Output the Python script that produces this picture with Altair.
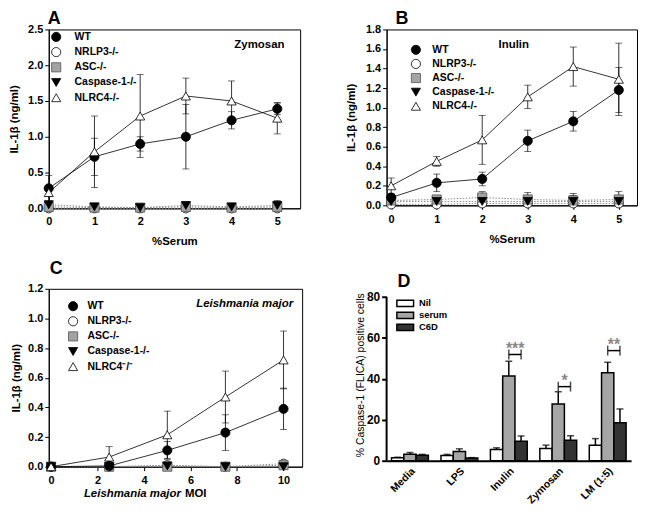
import altair as alt
import pandas as pd

FONT = "Liberation Sans"

# ---------------- Panel A : Zymosan ----------------
serum_x = [0, 1, 2, 3, 4, 5]
a_labels = ["WT", "NRLP3-/-", "ASC-/-", "Caspase-1-/-", "NLRC4-/-"]
a_wt = [0.28, 0.72, 0.90, 1.00, 1.23, 1.39]
a_wt_err = [0.18, 0.26, 0.10, 0.45, 0.12, 0.08]
a_nlrp3 = [0.00, 0.00, 0.00, 0.00, 0.00, 0.00]
a_nlrp3_err = [0.00, 0.00, 0.00, 0.00, 0.00, 0.00]
a_asc = [0.02, 0.01, 0.01, 0.02, 0.01, 0.02]
a_asc_err = [0.01, 0.00, 0.00, 0.01, 0.00, 0.01]
a_casp = [0.05, 0.02, 0.01, 0.04, 0.02, 0.04]
a_casp_err = [0.05, 0.01, 0.01, 0.02, 0.01, 0.07]
a_nlrc4 = [0.22, 0.79, 1.29, 1.57, 1.50, 1.26]
a_nlrc4_err = [0.05, 0.50, 0.58, 0.25, 0.28, 0.22]

# ---------------- Panel B : Inulin ----------------
b_labels = ["WT", "NLRP3-/-", "ASC-/-", "Caspase-1-/-", "NLRC4-/-"]
b_wt = [0.08, 0.23, 0.27, 0.66, 0.86, 1.18]
b_wt_err = [0.03, 0.09, 0.07, 0.11, 0.10, 0.23]
b_nlrp3 = [0.01, 0.01, 0.02, 0.02, 0.02, 0.02]
b_nlrp3_err = [0.01, 0.01, 0.01, 0.01, 0.01, 0.01]
b_asc = [0.05, 0.06, 0.08, 0.06, 0.05, 0.06]
b_asc_err = [0.02, 0.03, 0.06, 0.07, 0.07, 0.08]
b_casp = [0.04, 0.04, 0.04, 0.04, 0.04, 0.04]
b_casp_err = [0.01, 0.02, 0.03, 0.06, 0.06, 0.06]
b_nlrc4 = [0.20, 0.45, 0.67, 1.11, 1.42, 1.29]
b_nlrc4_err = [0.08, 0.05, 0.25, 0.12, 0.20, 0.37]

# ---------------- Panel C : Leishmania major ----------------
moi_x = [0, 2.5, 5, 7.5, 10]
c_labels = ["WT", "NLRP3-/-", "ASC-/-", "Caspase-1-/-", "NLRC4\u207b/\u207b"]
c_wt = [0.00, 0.005, 0.11, 0.23, 0.39]
c_wt_err = [0.00, 0.005, 0.06, 0.12, 0.14]
c_nlrp3 = [0.00, 0.00, 0.01, 0.00, 0.02]
c_nlrp3_err = [0.00, 0.00, 0.01, 0.00, 0.02]
c_asc = [0.00, 0.00, 0.00, 0.00, 0.01]
c_asc_err = [0.00, 0.00, 0.00, 0.00, 0.00]
c_casp = [0.00, 0.00, 0.005, 0.00, 0.00]
c_casp_err = [0.00, 0.00, 0.00, 0.00, 0.00]
c_nlrc4 = [0.00, 0.065, 0.215, 0.47, 0.72]
c_nlrc4_err = [0.00, 0.07, 0.16, 0.175, 0.195]

# ---------------- Panel D : FLICA ----------------
d_cats = ["Media", "LPS", "Inulin", "Zymosan", "LM (1:5)"]
d_groups = ["Nil", "serum", "C6D"]
d_nil = [1.4, 2.6, 5.5, 6.0, 7.6]
d_nil_err = [0.3, 0.5, 0.8, 1.6, 3.2]
d_serum = [3.1, 4.5, 41.4, 27.7, 43.0]
d_serum_err = [0.9, 1.3, 7.2, 6.0, 5.1]
d_c6d = [2.7, 1.3, 9.5, 10.0, 18.5]
d_c6d_err = [0.4, 0.2, 2.6, 2.2, 6.8]
sig_cats = ["Inulin", "Zymosan", "LM (1:5)"]
sig_text = ["***", "*", "**"]
sig_y = [51.9, 36.2, 53.8]

SHAPES = ["circle", "circle", "square", "triangle-down", "triangle-up"]
FILLS = ["black", "white", "#a3a3a3", "black", "white"]
STROKES = ["black", "black", "#555555", "black", "black"]


def line_panel(xs, labels, ys, errs, xdom, xticks, ydom, yticks, w, h,
               letter, letter_dx, letter_off, ytitle_pad, xlab_pad,
               xtitle, leg, note):
    rows = []
    order = [1, 2, 3, 0, 4]
    for i in order:
        for x, y, e in zip(xs, ys[i], errs[i]):
            rows.append(dict(x=x, y=y, lo=max(y - e, 0), hi=y + e, e=e,
                             s=labels[i]))
    df = pd.DataFrame(rows)
    main = [labels[0], labels[4]]
    ko = [labels[1], labels[2], labels[3]]

    xaxis = alt.Axis(values=xticks, title=xtitle, grid=False,
                     labelFont=FONT, labelFontSize=11,
                     labelFontWeight="bold", labelPadding=xlab_pad,
                     tickSize=4, titleFont=FONT, titleFontSize=11.5,
                     titleFontWeight="bold", titlePadding=9,
                     labelFlush=False, labelOverlap=False)
    yaxis = alt.Axis(values=yticks, format=".1f",
                     title="IL-1\u03b2 (ng/ml)", grid=False,
                     labelFont=FONT, labelFontSize=11,
                     labelFontWeight="bold", labelPadding=2,
                     tickSize=4, titleFont=FONT, titleFontSize=11.5,
                     titleFontWeight="bold", titlePadding=ytitle_pad,
                     labelFlush=False, labelOverlap=False)
    xsc = alt.Scale(domain=xdom, nice=False, zero=False)
    ysc = alt.Scale(domain=ydom, nice=False, zero=False)

    def X(f="x"):
        return alt.X(f + ":Q", scale=xsc, axis=xaxis)

    def Y(f="y"):
        return alt.Y(f + ":Q", scale=ysc, axis=yaxis)

    base = alt.Chart(df)
    err_df = base.transform_filter("datum.e > 0")
    erule = err_df.mark_rule(color="black", strokeWidth=0.8).encode(
        x=X(), y=Y("lo"), y2="hi:Q")
    ecap_hi = err_df.mark_tick(orient="horizontal", size=7, thickness=0.8,
                               color="black").encode(x=X(), y=Y("hi"))
    ecap_lo = err_df.mark_tick(orient="horizontal", size=7, thickness=0.8,
                               color="black").encode(x=X(), y=Y("lo"))
    kolines = base.transform_filter(
        alt.FieldOneOfPredicate(field="s", oneOf=ko)).mark_line(
        color="#8c8c8c", strokeWidth=1, strokeDash=[1.5, 1.5]).encode(
        x=X(), y=Y(), detail="s:N")
    mainlines = base.transform_filter(
        alt.FieldOneOfPredicate(field="s", oneOf=main)).mark_line(
        color="black", strokeWidth=0.8).encode(x=X(), y=Y(), detail="s:N")
    legend = alt.Legend(title=None, orient="none", legendX=leg[0],
                        legendY=leg[1], labelFont=FONT, labelFontSize=10.5,
                        labelFontWeight="bold", labelColor="black",
                        symbolSize=85, symbolStrokeWidth=0.8,
                        labelOffset=leg[2], rowPadding=leg[3], padding=0)
    pts = base.mark_point(filled=True, size=85, strokeWidth=0.8,
                          opacity=1).encode(
        x=X(), y=Y(),
        shape=alt.Shape("s:N", scale=alt.Scale(domain=labels, range=SHAPES),
                        legend=legend),
        fill=alt.Fill("s:N", scale=alt.Scale(domain=labels, range=FILLS),
                      legend=legend),
        stroke=alt.Stroke("s:N", scale=alt.Scale(domain=labels,
                                                 range=STROKES),
                          legend=legend))
    layers = [kolines, mainlines, erule, ecap_hi, ecap_lo, pts]
    for n in note:
        layers.append(alt.Chart(pd.DataFrame({"t": [n["text"]]})).mark_text(
            font=FONT, fontSize=n.get("size", 11.5), fontWeight="bold",
            fontStyle=n.get("style", "normal"), align=n["align"],
            baseline="middle", color="black").encode(
            text="t:N", x=alt.value(n["x"]), y=alt.value(n["y"])))
    return alt.layer(*layers).properties(
        width=w, height=h,
        view=alt.ViewBackground(stroke="black", strokeWidth=1),
        title=alt.TitleParams(letter, anchor="start", frame="group",
                              font=FONT, fontSize=18, fontWeight="bold",
                              color="black", dx=letter_dx,
                              offset=letter_off))


A = line_panel(serum_x, a_labels,
               [a_wt, a_nlrp3, a_asc, a_casp, a_nlrc4],
               [a_wt_err, a_nlrp3_err, a_asc_err, a_casp_err, a_nlrc4_err],
               [0, 5.5], serum_x, [0, 2.5], [0, 0.5, 1.0, 1.5, 2.0, 2.5],
               253, 180, "A", -1, -5, 8, 3, "%Serum",
               (2, 2, 13, 2.3),
               [dict(text="Zymosan", x=212, y=16, align="center")])

B = line_panel(serum_x, b_labels,
               [b_wt, b_nlrp3, b_asc, b_casp, b_nlrc4],
               [b_wt_err, b_nlrp3_err, b_asc_err, b_casp_err, b_nlrc4_err],
               [-0.1, 5.4], serum_x, [0, 1.8],
               [0, 0.2, 0.4, 0.6, 0.8, 1.0, 1.2, 1.4, 1.6, 1.8],
               252, 177, "B", 9, -5, 9, 4, "%Serum",
               (24, 15, 11, 1.2),
               [dict(text="Inulin", x=128, y=16, align="center")])

C = line_panel(moi_x, c_labels,
               [c_wt, c_nlrp3, c_asc, c_casp, c_nlrc4],
               [c_wt_err, c_nlrp3_err, c_asc_err, c_casp_err, c_nlrc4_err],
               [-0.1, 10.8], [0, 2, 4, 6, 8, 10], [0, 1.2],
               [0, 0.2, 0.4, 0.6, 0.8, 1.0, 1.2],
               255, 179, "C", 1, 5, 6, 4, None,
               (19, 12, 9, 2.2),
               [dict(text="Leishmania major", x=246, y=15, align="right",
                     style="italic"),
                dict(text="Leishmania major", x=133, y=207, align="right",
                     style="italic", size=11.5),
                dict(text="MOI", x=137, y=207, align="left", size=11.5)])

# ---------------- Panel D build ----------------
drows = []
for g, vals, errs in zip(d_groups, [d_nil, d_serum, d_c6d],
                         [d_nil_err, d_serum_err, d_c6d_err]):
    for c, v, e in zip(d_cats, vals, errs):
        drows.append(dict(cat=c, grp=g, v=v, hi=v + e))
ddf = pd.DataFrame(drows)

brows = []
for c, t, y in zip(sig_cats, sig_text, sig_y):
    for g in ["serum", "C6D"]:
        brows.append(dict(cat=c, grp=g, v=y, t=t))
bdf = pd.DataFrame(brows)
sdf = pd.DataFrame(dict(cat=sig_cats, v=sig_y, t=sig_text))
adf = pd.DataFrame(dict(v=[0], hi=[80]))

d_xaxis = alt.Axis(title=None, labelAngle=-45, labelAlign="right",
                   labelBaseline="top", labelFont=FONT,
                   labelFontSize=10.5, labelFontWeight="bold",
                   ticks=False, labelPadding=5, domainWidth=2,
                   domainColor="black")
d_xsc = alt.Scale(domain=d_cats, paddingInner=0.255, paddingOuter=0.1)
d_yaxis = alt.Axis(values=[0, 20, 40, 60, 80], grid=False,
                   domain=False, tickWidth=2, tickSize=5,
                   labelFont=FONT, labelFontSize=12,
                   labelFontWeight="bold", labelPadding=2,
                   title="% Caspase-1 (FLICA) positive cells",
                   titleFont=FONT, titleFontSize=10.5,
                   titleFontWeight="normal", titleX=-21,
                   labelOverlap=False)
d_ysc = alt.Scale(domain=[0, 84], nice=False)


def DX():
    return alt.X("cat:N", sort=d_cats, scale=d_xsc, axis=d_xaxis)


def DY(f="v"):
    return alt.Y(f + ":Q", scale=d_ysc, axis=d_yaxis)


DXO = alt.XOffset("grp:N", sort=d_groups,
                  scale=alt.Scale(domain=d_groups, paddingInner=0,
                                  paddingOuter=0))

d_legend = alt.Legend(title=None, orient="none", legendX=14, legendY=10,
                      symbolType="M-2.4,-0.9H2.4V0.9H-2.4Z", symbolSize=49,
                      symbolStrokeColor="black", symbolStrokeWidth=1.5,
                      labelFont=FONT, labelFontSize=9.5,
                      labelFontWeight="bold", labelColor="black",
                      labelOffset=9, rowPadding=-1, padding=0)

bars = alt.Chart(ddf).mark_bar(stroke="black", strokeWidth=1.5).encode(
    x=DX(), xOffset=DXO, y=DY(),
    fill=alt.Fill("grp:N", sort=d_groups,
                  scale=alt.Scale(domain=d_groups,
                                  range=["white", "#a6a6a6", "#333333"]),
                  legend=d_legend))
d_err = alt.Chart(ddf).mark_rule(color="black", strokeWidth=1.5).encode(
    x=DX(), xOffset=DXO, y=DY(), y2="hi:Q")
d_cap = alt.Chart(ddf).mark_tick(orient="horizontal", size=7, thickness=1.5,
                                 color="black").encode(
    x=DX(), xOffset=DXO, y=DY("hi"))
br_line = alt.Chart(bdf).mark_line(color="black", strokeWidth=1.5).encode(
    x=DX(), xOffset=DXO, y=DY(), detail="cat:N")
br_end = alt.Chart(bdf).mark_tick(orient="vertical", size=10, thickness=1.5,
                                  color="black").encode(
    x=DX(), xOffset=DXO, y=DY())
stars = alt.Chart(sdf).mark_text(font=FONT, fontSize=16, fontWeight="bold",
                                 color="#8a8a8a", baseline="alphabetic",
                                 align="center", dx=6.4, dy=-1).encode(
    x=DX(), y=DY(), text="t:N")
yaxis_line = alt.Chart(adf).mark_rule(color="black", strokeWidth=2).encode(
    x=alt.value(0), y=DY(), y2="hi:Q")

D = alt.layer(bars, d_err, d_cap, br_line, br_end, stars, yaxis_line).properties(
    width=246, height=173,
    title=alt.TitleParams("D", anchor="start", frame="group", font=FONT,
                          fontSize=18, fontWeight="bold", color="black",
                          dx=11, offset=-2))

chart = alt.concat(A, B, C, D, columns=2,
                   spacing={"row": 81, "column": 85},
                   bounds="flush", align="all").resolve_scale(
    shape="independent", fill="independent", stroke="independent",
    x="independent", y="independent").resolve_legend(
    shape="independent", fill="independent", stroke="independent").properties(
    padding=0).configure(font=FONT).configure_view(
    stroke=None).configure_axis(
    labelColor="black", titleColor="black", domainColor="black",
    tickColor="black")

chart.save("out.html", embed_options={"renderer": "svg", "actions": False})
